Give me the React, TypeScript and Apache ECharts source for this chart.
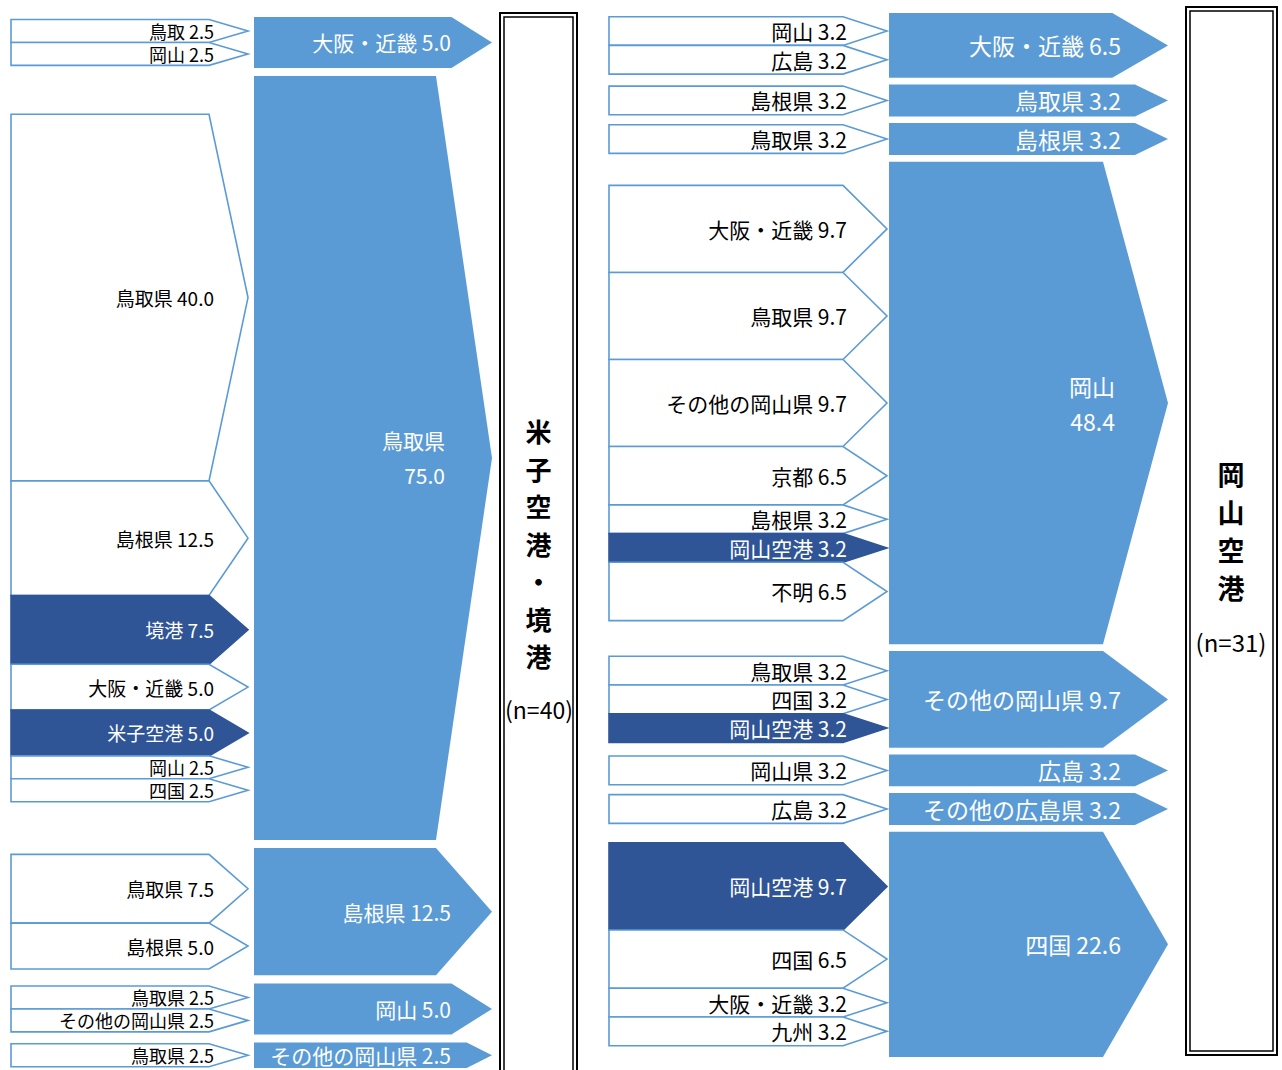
import React, { useEffect, useRef } from "react";
import * as echarts from "echarts";

// ---- Left panel: 米子空港・境港 (n=40) ----
const leftDestNames = ["大阪・近畿", "鳥取県", "島根県", "岡山", "その他の岡山県"];
const leftDestValues = [5.0, 75.0, 12.5, 5.0, 2.5];
const leftSrcGroups = [0, 0, 1, 1, 1, 1, 1, 1, 1, 2, 2, 3, 3, 4];
const leftSrcNames = ["鳥取", "岡山", "鳥取県", "島根県", "境港", "大阪・近畿", "米子空港", "岡山", "四国", "鳥取県", "島根県", "鳥取県", "その他の岡山県", "鳥取県"];
const leftSrcValues = [2.5, 2.5, 40.0, 12.5, 7.5, 5.0, 5.0, 2.5, 2.5, 7.5, 5.0, 2.5, 2.5, 2.5];

// ---- Right panel: 岡山空港 (n=31) ----
const rightDestNames = ["大阪・近畿", "鳥取県", "島根県", "岡山", "その他の岡山県", "広島", "その他の広島県", "四国"];
const rightDestValues = [6.5, 3.2, 3.2, 48.4, 9.7, 3.2, 3.2, 22.6];
const rightSrcGroups = [0, 0, 1, 2, 3, 3, 3, 3, 3, 3, 3, 4, 4, 4, 5, 6, 7, 7, 7, 7];
const rightSrcNames = ["岡山", "広島", "島根県", "鳥取県", "大阪・近畿", "鳥取県", "その他の岡山県", "京都", "島根県", "岡山空港", "不明", "鳥取県", "四国", "岡山空港", "岡山県", "広島", "岡山空港", "四国", "大阪・近畿", "九州"];
const rightSrcValues = [3.2, 3.2, 3.2, 3.2, 9.7, 9.7, 9.7, 6.5, 3.2, 3.2, 6.5, 3.2, 3.2, 3.2, 3.2, 3.2, 9.7, 6.5, 3.2, 3.2];

// Highlighted origins (ports / airports)
const highlighted = ["境港", "米子空港", "岡山空港"];

// Box titles
const leftTitle = "米子空港・境港";
const leftN = "(n=40)";
const rightTitle = "岡山空港";
const rightN = "(n=31)";

const FONT = "'Noto Sans CJK JP', 'Noto Sans', sans-serif";
const C_DEST = "#5B9BD5";
const C_DARK = "#2F5597";

type Panel = {
  destNames: string[]; destValues: number[];
  srcGroups: number[]; srcNames: string[]; srcValues: number[];
  gap: number; top: number; bottom: number; srcScale: number;
  srcX0: number; srcTip: number; srcDepth: number; srcLabelRight: number; srcFont: number;
  destX0: number; destTip: number; depthMax: number; depthK: number; depthC: number;
  destLabelRight: number; destFont: number;
};

const panels: Panel[] = [
  {
    destNames: leftDestNames, destValues: leftDestValues,
    srcGroups: leftSrcGroups, srcNames: leftSrcNames, srcValues: leftSrcValues,
    gap: 0.8, top: 17, bottom: 1068, srcScale: 0.9,
    srcX0: 11, srcTip: 248, srcDepth: 39, srcLabelRight: 214, srcFont: 19,
    destX0: 254, destTip: 492, depthMax: 56, depthK: 0.6, depthC: 10,
    destLabelRight: 451, destFont: 21,
  },
  {
    destNames: rightDestNames, destValues: rightDestValues,
    srcGroups: rightSrcGroups, srcNames: rightSrcNames, srcValues: rightSrcValues,
    gap: 0.67, top: 13, bottom: 1057, srcScale: 0.9,
    srcX0: 609, srcTip: 887, srcDepth: 44, srcLabelRight: 847, srcFont: 21,
    destX0: 889, destTip: 1168, depthMax: 65, depthK: 0.69, depthC: 11,
    destLabelRight: 1121, destFont: 23,
  },
];

type Shape = { kind: "src" | "dest"; y0: number; y1: number; label: string; dark: boolean; twoLine: boolean };

function build(p: Panel) {
  const shapes: Shape[] = [];
  let y = 0;
  p.destValues.forEach((v, i) => {
    const y0 = y;
    const y1 = y + v;
    const idx = p.srcGroups.map((g, j) => (g === i ? j : -1)).filter((j) => j >= 0);
    const tot = idx.reduce((a, j) => a + p.srcValues[j], 0) * p.srcScale;
    let sy = (y0 + y1) / 2 - tot / 2;
    idx.forEach((j) => {
      const h = p.srcValues[j] * p.srcScale;
      shapes.push({
        kind: "src", y0: sy, y1: sy + h,
        label: `${p.srcNames[j]} ${p.srcValues[j].toFixed(1)}`,
        dark: highlighted.includes(p.srcNames[j]),
        twoLine: false,
      });
      sy += h;
    });
    const twoLine = v >= 40;
    shapes.push({
      kind: "dest", y0, y1,
      label: twoLine ? `${p.destNames[i]}\n${v.toFixed(1)}` : `${p.destNames[i]} ${v.toFixed(1)}`,
      dark: false,
      twoLine,
    });
    y = y1 + p.gap;
  });
  return { shapes, total: y - p.gap };
}

export default function App() {
  const ref = useRef<HTMLDivElement>(null);
  useEffect(() => {
    document.body.style.margin = "0";
    if (!ref.current) return;
    const chart = echarts.init(ref.current, undefined, { renderer: "svg" });
    const built = panels.map(build);

    const series = panels.map((p, pi) => {
      const { shapes } = built[pi];
      return {
        type: "custom",
        xAxisIndex: pi,
        yAxisIndex: pi,
        data: shapes.map((s) => [0, s.y0, s.y1]),
        encode: { x: 0, y: [1, 2] },
        renderItem: (params: any, api: any) => {
          const s = shapes[params.dataIndex];
          const isDest = s.kind === "dest";
          const x0v = isDest ? p.destX0 : p.srcX0;
          const xTv = isDest ? p.destTip : p.srcTip;
          const a = api.coord([x0v, s.y0]);
          const b = api.coord([xTv, s.y1]);
          const x0 = a[0], y0 = a[1], xT = b[0], y1 = b[1];
          const h = y1 - y0;
          const ym = (y0 + y1) / 2;
          const depth = isDest ? Math.min(p.depthMax, p.depthK * h + p.depthC) : p.srcDepth;
          const xb = xT - depth;
          const fill = isDest ? C_DEST : s.dark ? C_DARK : "#FFFFFF";
          const stroke = isDest ? C_DEST : s.dark ? C_DARK : C_DEST;
          const lxv = isDest ? p.destLabelRight - (s.twoLine ? 6 : 0) : p.srcLabelRight;
          const lx = api.coord([lxv, s.y0])[0];
          const fs = isDest ? p.destFont : h < 25 ? p.srcFont - 1 : p.srcFont;
          return {
            type: "group",
            children: [
              {
                type: "polygon",
                shape: { points: [[x0, y0], [xb, y0], [xT, ym], [xb, y1], [x0, y1]] },
                style: { fill, stroke, lineWidth: isDest ? 0 : 1.6 },
              },
              {
                type: "text",
                x: lx,
                y: ym,
                style: {
                  text: s.label,
                  fill: isDest || s.dark ? "#FFFFFF" : "#000000",
                  fontSize: fs,
                  fontFamily: FONT,
                  align: "right",
                  verticalAlign: "middle",
                  lineHeight: 35,
                },
              },
            ],
          };
        },
      };
    });

    const boxes = (x: number, y: number, w: number, h: number, inset: number) => [
      { type: "rect", shape: { x, y, width: w, height: h }, style: { fill: "none", stroke: "#000", lineWidth: 2 } },
      { type: "rect", shape: { x: x + inset, y: y + inset, width: w - 2 * inset, height: h - 2 * inset }, style: { fill: "none", stroke: "#000", lineWidth: 1.5 } },
    ];

    chart.setOption({
      animation: false,
      backgroundColor: "#FFFFFF",
      grid: panels.map((p) => ({ left: 0, right: 0, top: p.top, height: p.bottom - p.top })),
      xAxis: panels.map((_, i) => ({ type: "value", gridIndex: i, min: 0, max: 1282, show: false })),
      yAxis: panels.map((_, i) => ({ type: "value", gridIndex: i, min: 0, max: built[i].total, inverse: true, show: false })),
      series,
      graphic: [
        ...boxes(500, 13, 77, 1075, 4),
        ...boxes(1186, 7, 91, 1048, 4),
        {
          type: "text", x: 538.5, y: 543,
          style: { text: leftTitle.split("").join("\n"), fill: "#000", fontSize: 26, fontWeight: "bold", fontFamily: FONT, align: "center", verticalAlign: "middle", lineHeight: 37.5 },
        },
        {
          type: "text", x: 539, y: 709,
          style: { text: leftN, fill: "#000", fontSize: 23, fontFamily: FONT, align: "center", verticalAlign: "middle" },
        },
        {
          type: "text", x: 1231, y: 530,
          style: { text: rightTitle.split("").join("\n"), fill: "#000", fontSize: 27, fontWeight: "bold", fontFamily: FONT, align: "center", verticalAlign: "middle", lineHeight: 38 },
        },
        {
          type: "text", x: 1231, y: 641,
          style: { text: rightN, fill: "#000", fontSize: 24, fontFamily: FONT, align: "center", verticalAlign: "middle" },
        },
      ],
    });
    return () => chart.dispose();
  }, []);
  return <div ref={ref} style={{ position: "absolute", left: 0, top: 0, width: 1282, height: 1070 }} />;
}
